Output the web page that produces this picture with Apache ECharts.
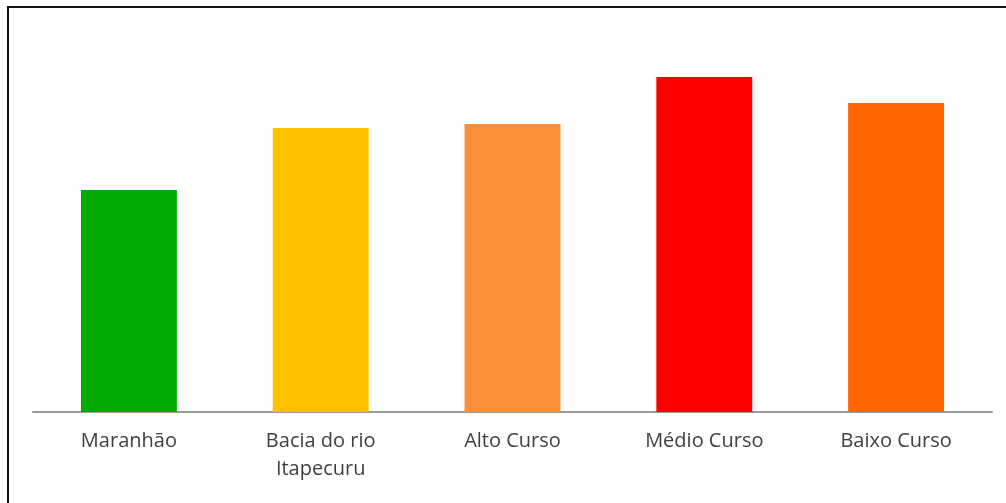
<!DOCTYPE html>
<html><head><meta charset="utf-8">
<script src="https://cdn.jsdelivr.net/npm/echarts@6/dist/echarts.min.js"></script>
<style>html,body{margin:0;padding:0;background:#fff}#c{width:1006px;height:503px}</style>
</head><body><div id="c"></div>
<script>
const categories = ['Maranhão', 'Bacia do rio\nItapecuru', 'Alto Curso', 'Médio Curso', 'Baixo Curso'];
const values = [22.2, 28.4, 28.8, 33.5, 30.9];
const colors = ['#00AA00', '#FFC000', '#F79038', '#FF0000', '#FF6600'];

const chart = echarts.init(document.getElementById('c'), null, {renderer: 'canvas'});
chart.setOption({
  animation: false,
  backgroundColor: '#fff',
  graphic: [{
    type: 'rect', shape: {x: 8, y: 7, width: 1010, height: 510},
    style: {fill: 'none', stroke: '#111', lineWidth: 2}
  }],
  grid: {left: 33, right: 14, top: 12, bottom: 91},
  xAxis: {
    type: 'category', data: categories,
    axisLine: {lineStyle: {color: '#9a9a9a', width: 2}},
    axisTick: {show: false},
    axisLabel: {color: '#404040', fontFamily: 'Open Sans', fontSize: 20, margin: 15, lineHeight: 28}
  },
  yAxis: {type: 'value', min: 0, max: 40, show: false, splitLine: {show: false}},
  series: [{
    type: 'bar', barWidth: '50%',
    data: values.map((v, i) => ({value: v, itemStyle: {color: colors[i]}}))
  }]
});
</script></body></html>
